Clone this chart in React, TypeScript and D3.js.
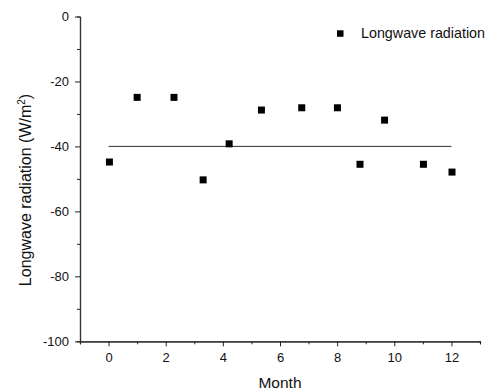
import * as d3 from 'd3';
import React, { useEffect, useRef } from 'react';

// monthly longwave radiation (W/m2)
const months = [0.03, 1.0, 2.29, 3.31, 4.22, 5.35, 6.76, 8.01, 8.8, 9.66, 11.02, 12.02];
const radiation = [-44.8, -24.9, -24.9, -50.3, -39.2, -28.8, -28.1, -28.1, -45.5, -31.9, -45.5, -47.9];
const meanLine = [
  { x: 0, y: -40 },
  { x: 12, y: -40 },
];
const xMajor = [0, 2, 4, 6, 8, 10, 12];
const xMinor = [-1, 1, 3, 5, 7, 9, 11, 13];
const yMajor = [0, -20, -40, -60, -80, -100];
const yMinor = [-10, -30, -50, -70, -90];
const legendLabel = 'Longwave radiation';

const App = () => {
  const ref = useRef<SVGSVGElement | null>(null);

  useEffect(() => {
    if (!ref.current) return;
    const svg = d3.select(ref.current);
    svg.selectAll('*').remove();

    const font = 'Liberation Sans, Arial, sans-serif';
    const left = 80;
    const right = 480;
    const top = 16.5;
    const bottom = 341.3;
    const fmt = (d) => String(d); // plain hyphen minus, like the original

    const x = d3.scaleLinear().domain([-1, 13]).range([left, right]);
    const y = d3.scaleLinear().domain([-100, 0]).range([bottom, top]);

    // x axis: minor then major ticks
    svg
      .append('g')
      .attr('transform', `translate(0,${bottom})`)
      .call(d3.axisBottom(x).tickValues(xMinor).tickSize(3).tickFormat(() => ''));
    svg
      .append('g')
      .attr('transform', `translate(0,${bottom})`)
      .call(d3.axisBottom(x).tickValues(xMajor).tickSize(5).tickSizeOuter(0).tickPadding(6.5).tickFormat(fmt));

    // y axis
    svg
      .append('g')
      .attr('transform', `translate(${left},0)`)
      .call(d3.axisLeft(y).tickValues(yMinor).tickSize(3).tickFormat(() => ''));
    svg
      .append('g')
      .attr('transform', `translate(${left},0)`)
      .call(d3.axisLeft(y).tickValues(yMajor).tickSize(5).tickSizeOuter(0).tickPadding(6).tickFormat(fmt));

    svg.selectAll('.domain').attr('stroke', '#333').attr('stroke-width', 1.2);
    svg.selectAll('.tick line').attr('stroke', '#222');
    svg.selectAll('.tick text').attr('font-family', font).attr('font-size', 13).attr('fill', '#111');

    // mean line
    const line = d3
      .line<{ x: number; y: number }>()
      .x((d) => x(d.x))
      .y((d) => y(d.y));
    svg.append('path').datum(meanLine).attr('d', line).attr('fill', 'none').attr('stroke', '#333').attr('stroke-width', 1);

    // points
    const sz = 7;
    svg
      .append('g')
      .selectAll('rect')
      .data(months)
      .enter()
      .append('rect')
      .attr('x', (d) => x(d) - sz / 2)
      .attr('y', (d, i) => y(radiation[i]) - sz / 2)
      .attr('width', sz)
      .attr('height', sz)
      .attr('fill', '#000');

    // legend
    svg.append('rect').attr('x', 337).attr('y', 30.3).attr('width', 6.5).attr('height', 6.5).attr('fill', '#000');
    svg
      .append('text')
      .attr('x', 361)
      .attr('y', 37.8)
      .attr('font-family', font)
      .attr('font-size', 14.3)
      .attr('fill', '#111')
      .text(legendLabel);

    // axis titles
    svg
      .append('text')
      .attr('x', (left + right) / 2)
      .attr('y', 388)
      .attr('text-anchor', 'middle')
      .attr('font-family', font)
      .attr('font-size', 15.5)
      .attr('fill', '#111')
      .text('Month');

    const yt = svg
      .append('text')
      .attr('transform', `translate(31,190) rotate(-90)`)
      .attr('text-anchor', 'middle')
      .attr('font-family', font)
      .attr('font-size', 16)
      .attr('fill', '#111');
    yt.append('tspan').text('Longwave radiation (W/m');
    yt.append('tspan').attr('font-size', 10).attr('dy', -6).text('2');
    yt.append('tspan').attr('dy', 6).text(')');
  }, []);

  return (
    <svg
      ref={ref}
      width={487}
      height={392}
      style={{ position: 'absolute', left: 0, top: 0, background: '#fff' }}
    />
  );
};

export default App;
